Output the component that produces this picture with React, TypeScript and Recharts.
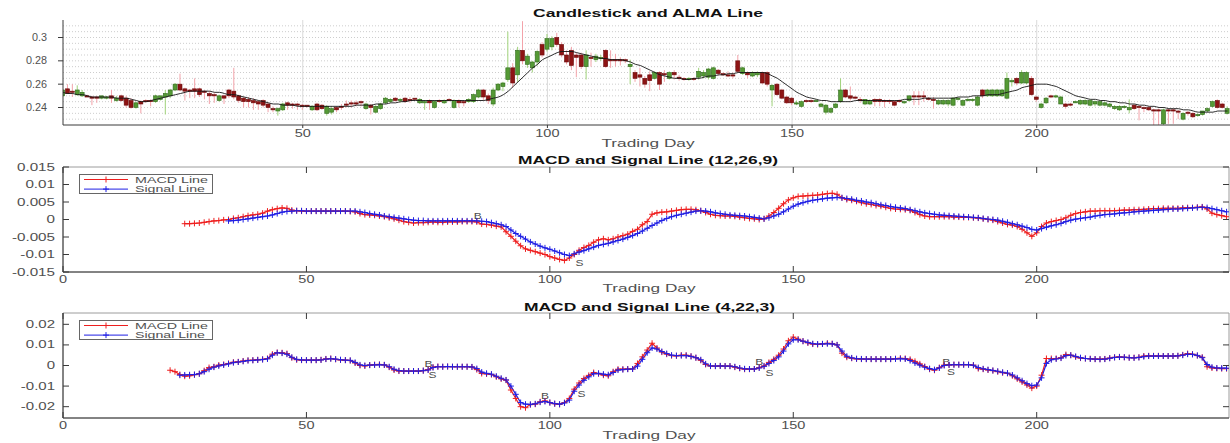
import React from 'react';
import {
  ComposedChart,
  Bar,
  Line,
  XAxis,
  YAxis,
  CartesianGrid,
  ReferenceArea,
  ReferenceDot,
  Legend,
} from 'recharts';

// prices are kept in thousandths (0.253 -> 253), MACD values in ten-thousandths (0.0012 -> 12)
const LAST_DAY = 239;

const open = [
  250, 256, 254, 251, 250, 250, 249, 249, 248, 248,
  250, 246, 250, 248, 246, 240, 245, 246, 246, 245,
  247, 249, 250, 255, 260, 256, 255, 256, 256, 254,
  252, 251, 246, 250, 255, 254, 250, 248, 247, 246,
  245, 246, 243, 239, 237, 238, 244, 243, 243, 242,
  242, 238, 243, 242, 235, 236, 240, 241, 243, 244,
  244, 245, 239, 242, 236, 239, 244, 245, 248, 246,
  248, 247, 248, 244, 244, 246, 240, 246, 244, 247,
  240, 246, 245, 245, 245, 249, 255, 250, 243, 255,
  258, 264, 274, 268, 289, 277, 274, 279, 294, 290,
  292, 300, 294, 285, 289, 285, 285, 275, 283, 281,
  282, 289, 281, 281, 281, 281, 275, 270, 268, 265,
  268, 265, 270, 269, 265, 270, 266, 265, 264, 265,
  266, 267, 266, 265, 272, 269, 268, 268, 280, 269,
  270, 267, 268, 270, 270, 255, 260, 255, 249, 248,
  243, 241, 246, 246, 245, 241, 236, 236, 240, 245,
  255, 250, 249, 247, 243, 243, 247, 247, 246, 246,
  245, 246, 244, 246, 250, 250, 250, 248, 247, 243,
  243, 243, 242, 247, 242, 246, 246, 242, 255, 250,
  250, 250, 250, 248, 262, 265, 261, 261, 265, 249,
  240, 244, 250, 249, 243, 243, 243, 244, 243, 243,
  242, 243, 242, 242, 241, 239, 238, 240, 238, 242,
  241, 240, 240, 238, 238, 226, 238, 238, 237, 230,
  236, 235, 233, 234, 237, 241, 246, 243, 235,
];

const high = [
  256, 260, 260, 259, 255, 251, 250, 250, 250, 250,
  255, 250, 251, 250, 248, 245, 246, 247, 247, 251,
  250, 255, 256, 261, 269, 257, 256, 265, 257, 255,
  254, 253, 251, 251, 256, 274, 251, 249, 249, 248,
  246, 247, 244, 241, 240, 244, 245, 244, 244, 243,
  242, 242, 244, 243, 242, 241, 241, 243, 246, 246,
  246, 246, 244, 243, 242, 244, 249, 248, 249, 248,
  249, 249, 248, 248, 246, 247, 246, 247, 247, 248,
  247, 247, 246, 248, 252, 256, 256, 252, 257, 261,
  262, 305, 278, 292, 314, 286, 280, 289, 296, 303,
  301, 304, 296, 289, 292, 287, 287, 289, 287, 286,
  285, 290, 289, 286, 283, 282, 281, 272, 274, 267,
  271, 271, 271, 272, 271, 272, 268, 266, 266, 266,
  274, 272, 274, 275, 273, 270, 271, 270, 285, 275,
  271, 271, 271, 271, 271, 260, 261, 256, 250, 249,
  246, 246, 247, 247, 247, 244, 243, 240, 244, 265,
  256, 258, 250, 249, 247, 247, 248, 248, 247, 247,
  246, 247, 246, 250, 254, 254, 254, 249, 249, 247,
  247, 247, 249, 249, 247, 248, 248, 250, 256, 256,
  256, 256, 256, 270, 265, 266, 272, 271, 267, 250,
  244, 249, 251, 251, 250, 244, 244, 246, 247, 247,
  247, 246, 246, 245, 244, 242, 242, 242, 247, 243,
  242, 241, 241, 239, 239, 239, 239, 239, 238, 236,
  237, 236, 235, 237, 240, 246, 247, 244, 241,
];

const low = [
  249, 252, 249, 250, 249, 249, 242, 244, 247, 247,
  244, 245, 245, 240, 239, 239, 235, 244, 241, 244,
  246, 234, 248, 254, 254, 246, 248, 248, 249, 247,
  243, 244, 245, 243, 248, 247, 244, 240, 240, 238,
  238, 240, 236, 236, 233, 237, 238, 239, 238, 238,
  240, 237, 237, 238, 233, 234, 236, 238, 240, 240,
  241, 241, 238, 234, 235, 238, 243, 244, 245, 244,
  244, 244, 246, 243, 238, 238, 239, 244, 243, 245,
  239, 240, 241, 244, 244, 248, 246, 243, 241, 254,
  254, 262, 257, 262, 277, 274, 270, 276, 283, 288,
  289, 292, 283, 277, 272, 266, 273, 264, 275, 279,
  280, 274, 274, 275, 276, 278, 260, 262, 258, 257,
  254, 264, 255, 262, 264, 264, 263, 263, 263, 263,
  264, 265, 264, 264, 267, 267, 266, 265, 270, 268,
  265, 266, 266, 260, 258, 241, 250, 247, 243, 242,
  242, 240, 244, 244, 245, 240, 234, 235, 239, 244,
  248, 246, 247, 244, 242, 242, 241, 241, 240, 243,
  241, 244, 243, 245, 242, 242, 245, 246, 239, 242,
  242, 241, 241, 246, 241, 245, 245, 241, 248, 249,
  249, 249, 249, 247, 258, 259, 260, 260, 250, 245,
  239, 243, 248, 248, 243, 239, 241, 244, 242, 242,
  241, 241, 241, 241, 240, 238, 237, 239, 235, 238,
  229, 236, 237, 225, 225, 225, 226, 226, 230, 229,
  233, 231, 232, 233, 236, 240, 239, 239, 234,
];

const close = [
  255, 252, 253, 255, 253, 249, 248, 248, 250, 249,
  248, 248, 246, 242, 240, 244, 243, 245, 245, 250,
  250, 252, 255, 260, 255, 254, 254, 254, 251, 253,
  250, 250, 250, 248, 250, 249, 246, 245, 245, 244,
  243, 242, 240, 238, 239, 243, 242, 242, 242, 241,
  241, 241, 238, 239, 241, 239, 238, 240, 242, 243,
  243, 244, 243, 240, 241, 243, 248, 247, 246, 247,
  245, 246, 247, 247, 245, 244, 245, 245, 246, 246,
  246, 244, 244, 247, 251, 255, 249, 246, 255, 260,
  261, 274, 261, 289, 280, 284, 279, 288, 285, 299,
  299, 294, 285, 279, 276, 283, 275, 285, 282, 284,
  283, 275, 280, 280, 280, 280, 277, 265, 266, 260,
  263, 270, 260, 268, 270, 268, 265, 264, 265, 264,
  271, 270, 273, 274, 269, 268, 267, 267, 271, 274,
  268, 270, 270, 261, 260, 259, 251, 248, 244, 244,
  244, 245, 245, 245, 246, 243, 242, 239, 243, 255,
  249, 248, 248, 246, 247, 246, 245, 245, 245, 245,
  242, 245, 245, 250, 249, 249, 249, 247, 246, 246,
  246, 246, 248, 248, 246, 247, 247, 249, 250, 255,
  255, 255, 255, 265, 263, 261, 270, 270, 251, 247,
  243, 248, 249, 250, 249, 241, 242, 245, 246, 246,
  246, 245, 245, 244, 243, 241, 241, 241, 240, 239,
  240, 239, 238, 237, 237, 238, 237, 237, 236, 235,
  235, 232, 234, 237, 239, 245, 240, 240, 239,
];

const alma = [
  253, 252, 252, 251, 251, 250, 249, 249, 249, 249,
  249, 248, 248, 248, 247, 246, 245, 245, 246, 247,
  248, 249, 250, 251, 252, 253, 254, 254, 254, 254,
  254, 253, 253, 252, 251, 251, 250, 249, 248, 247,
  246, 245, 244, 243, 243, 242, 242, 242, 241, 241,
  241, 241, 241, 241, 241, 241, 241, 241, 241, 241,
  242, 242, 242, 242, 243, 243, 243, 244, 244, 245,
  245, 246, 246, 246, 246, 246, 246, 246, 246, 246,
  246, 246, 246, 246, 246, 246, 246, 247, 248, 249,
  251, 254, 258, 262, 266, 270, 274, 277, 281, 283,
  285, 287, 288, 288, 288, 287, 286, 285, 284, 283,
  282, 282, 281, 281, 281, 280, 279, 277, 276, 274,
  272, 270, 268, 267, 266, 265, 265, 264, 264, 265,
  265, 266, 267, 267, 268, 268, 269, 269, 270, 270,
  270, 270, 270, 270, 269, 267, 265, 262, 259, 256,
  253, 251, 249, 248, 247, 246, 246, 245, 245, 245,
  245, 245, 246, 246, 246, 246, 246, 246, 246, 246,
  246, 246, 247, 247, 247, 247, 248, 248, 248, 248,
  248, 248, 248, 249, 249, 249, 250, 250, 250, 251,
  251, 251, 252, 253, 254, 255, 257, 258, 259, 260,
  260, 260, 259, 258, 256, 254, 252, 250, 249, 248,
  247, 247, 246, 246, 245, 245, 244, 244, 243, 243,
  242, 242, 241, 241, 240, 240, 239, 239, 239, 238,
  238, 237, 236, 236, 236, 236, 237, 237, 237,
];

// MACD (12,26,9)
const macd12Start = 25;
const macd12 = [
  -12, -12, -11, -10, -8, -6, -4, -3, -1, 0,
  3, 5, 8, 11, 13, 15, 18, 24, 28, 31,
  33, 32, 27, 25, 24, 24, 24, 24, 24, 24,
  24, 24, 24, 24, 23, 22, 17, 14, 13, 12,
  10, 8, 5, 2, -2, -6, -8, -10, -9, -9,
  -8, -7, -8, -8, -7, -7, -7, -6, -6, -6,
  -7, -13, -14, -16, -19, -21, -35, -48, -62, -75,
  -84, -88, -92, -96, -100, -106, -110, -114, -117, -110,
  -100, -88, -80, -74, -65, -58, -55, -58, -55, -50,
  -46, -42, -34, -28, -15, -6, 15, 19, 21, 22,
  24, 26, 28, 29, 29, 28, 25, 20, 15, 12,
  11, 10, 10, 9, 7, 5, 3, 2, 0, 2,
  10, 20, 32, 45, 56, 62, 66, 67, 68, 69,
  70, 72, 74, 75, 72, 62, 57, 55, 52, 48,
  45, 43, 40, 38, 35, 32, 30, 29, 28, 26,
  20, 14, 10, 8, 8, 8, 8, 8, 7, 7,
  6, 6, 5, 4, 2, 0, -2, -6, -10, -14,
  -16, -20, -28, -38, -48, -38, -20, -10, -6, -3,
  0, 5, 12, 17, 20, 22, 24, 24, 25, 25,
  25, 25, 26, 27, 27, 28, 28, 29, 30, 31,
  31, 32, 32, 32, 32, 33, 34, 34, 35, 36,
  30, 18, 14, 11, 8,
];
const signal12Start = 34;
const signal12 = [
  -4, -3, -2, 0, 2, 4, 6, 8, 10, 13,
  17, 21, 23, 24, 25, 25, 24, 24, 24, 24,
  24, 24, 24, 24, 24, 24, 24, 22, 20, 17,
  15, 13, 10, 8, 6, 4, 2, 0, -2, -3,
  -3, -4, -4, -4, -4, -4, -4, -4, -4, -4,
  -4, -4, -5, -6, -9, -12, -15, -20, -30, -40,
  -48, -56, -64, -70, -76, -81, -85, -90, -95, -100,
  -103, -98, -93, -89, -84, -79, -74, -71, -68, -64,
  -60, -56, -51, -46, -40, -33, -25, -17, -10, -3,
  3, 8, 12, 15, 18, 21, 24, 25, 24, 22,
  19, 17, 15, 13, 12, 11, 10, 8, 6, 4,
  2, 5, 10, 15, 22, 30, 38, 44, 48, 52,
  55, 57, 59, 61, 62, 63, 62, 60, 58, 55,
  53, 50, 48, 45, 42, 40, 37, 35, 33, 31,
  28, 25, 22, 19, 17, 15, 13, 12, 11, 10,
  9, 8, 7, 6, 5, 3, 1, 0, -2, -5,
  -8, -12, -15, -19, -23, -28, -30, -26, -22, -18,
  -15, -11, -6, -2, 1, 3, 5, 7, 10, 12,
  14, 15, 16, 18, 19, 20, 22, 23, 24, 25,
  26, 27, 28, 29, 30, 30, 31, 32, 33, 34,
  35, 34, 31, 28, 25, 22,
];

// MACD (4,22,3)
const macd4Start = 22;
const macd4 = [
  -23, -30, -44, -52, -50, -45, -40, -25, -10, -6,
  2, 5, 10, 16, 18, 22, 25, 26, 28, 30,
  34, 55, 63, 62, 58, 38, 28, 26, 26, 26,
  26, 28, 32, 34, 30, 27, 26, 24, 12, 0,
  -2, 2, 4, 5, 3, -8, -22, -27, -27, -27,
  -27, -27, -25, -20, -8, -5, -6, -5, -6, -6,
  -6, -6, -7, -20, -39, -41, -44, -55, -65, -71,
  -119, -160, -200, -205, -190, -188, -176, -172, -180, -186,
  -189, -180, -160, -115, -85, -63, -48, -34, -40, -47,
  -50, -30, -18, -18, -17, -17, 10, 42, 75, 108,
  85, 65, 55, 48, 47, 50, 50, 45, 38, 25,
  5, -3, -3, -2, -3, -3, -8, -14, -18, -18,
  -17, -10, -2, 15, 30, 50, 80, 120, 138, 128,
  118, 110, 104, 102, 105, 108, 106, 100, 60, 40,
  35, 32, 31, 31, 31, 31, 31, 31, 31, 33,
  35, 34, 30, 20, 8, -5, -18, -23, -10, 2,
  3, 4, 4, 4, 4, 2, -15, -18, -22, -25,
  -30, -35, -38, -50, -65, -80, -95, -110, -100, -47,
  34, 34, 34, 38, 53, 50, 42, 36, 34, 33,
  31, 31, 32, 36, 40, 42, 40, 38, 38, 40,
  46, 47, 47, 47, 46, 46, 46, 47, 52, 58,
  55, 48, 40, -6, -12, -14, -15, -15,
];
const signal4Start = 24;
const signal4 = [
  -47, -46, -45, -44, -40, -30, -18, -8, -2, 3,
  8, 14, 17, 20, 24, 25, 27, 29, 32, 50,
  62, 60, 55, 40, 30, 27, 26, 26, 26, 27,
  31, 33, 31, 28, 26, 25, 15, 3, 0, 2,
  3, 4, 3, -6, -18, -25, -27, -27, -27, -27,
  -25, -22, -10, -6, -6, -5, -6, -6, -6, -6,
  -7, -15, -32, -38, -42, -52, -62, -70, -100, -140,
  -180, -188, -189, -186, -178, -175, -180, -185, -188, -182,
  -168, -125, -95, -72, -55, -40, -38, -42, -45, -34,
  -22, -20, -18, -17, -3, 30, 62, 85, 80, 68,
  58, 50, 48, 48, 48, 44, 38, 28, 8, -2,
  -3, -2, -3, -3, -6, -12, -16, -17, -17, -12,
  -4, 10, 24, 42, 70, 105, 125, 125, 118, 112,
  106, 104, 105, 106, 105, 100, 70, 45, 37, 33,
  32, 31, 31, 31, 31, 31, 31, 32, 33, 32,
  24, 12, 2, -8, -15, -20, -12, 0, 3, 4,
  4, 4, 4, 1, -10, -16, -20, -24, -28, -33,
  -37, -46, -60, -74, -88, -98, -95, -60, 10, 28,
  32, 36, 48, 50, 44, 38, 34, 32, 31, 30,
  31, 35, 39, 41, 40, 38, 37, 39, 43, 46,
  46, 46, 46, 46, 46, 47, 50, 55, 54, 49,
  38, 5, -8, -12, -13, -13,
];

// buy / sell markers
const marks12 = [
  { day: 85.2, value: 12, text: 'B' },
  { day: 106.1, value: -123, text: 'S' },
];
const marks4 = [
  { day: 75.1, value: 6, text: 'B' },
  { day: 75.9, value: -47, text: 'S' },
  { day: 99.0, value: -148, text: 'B' },
  { day: 106.5, value: -139, text: 'S' },
  { day: 143.0, value: 16, text: 'B' },
  { day: 145.1, value: -37, text: 'S' },
  { day: 181.4, value: 16, text: 'B' },
  { day: 182.4, value: -32, text: 'S' },
];

const priceTicks = [240, 260, 280, 300];
const priceMinorGrid = [230, 235, 240, 245, 250, 255, 260, 265, 270, 275, 280, 285, 290, 295, 300, 305, 310];
const topDayTicks = [50, 100, 150, 200];
const dayTicks = [0, 50, 100, 150, 200];
const macd12Ticks = [-150, -100, -50, 0, 50, 100, 150];
const macd4Ticks = [-200, -100, 0, 100, 200];

const FONT = '"Liberation Sans", Arial, Helvetica, sans-serif';
const LABEL = '#505050';
const AXIS = '#3a3a3a';
const FRAME = '#9c9c9c';
const RED = '#ee1f1f';
const BLUE = '#1f1fe4';

const PLOT_LEFT = 63;
const PLOT_W = 1166;
const PLOT_H = 105;

const CHAR_W: Record<string, number> = { '.': 0.278, '-': 0.333 };
const textW = (s: string, size: number, stretch: number) =>
  [...s].reduce((w, ch) => w + (CHAR_W[ch] ?? 0.556), 0) * size * stretch;

const KEY_TEXT_W: Record<string, number> = { 'MACD Line': 73, 'Signal Line': 70 };

function StretchText({ x, y, text, size = 10, width, anchor = 'middle', weight = 400, fill = LABEL }: any) {
  return (
    <text
      x={x}
      y={y}
      fontSize={size}
      fontFamily={FONT}
      fontWeight={weight}
      fill={fill}
      textAnchor={anchor}
      textLength={width}
      lengthAdjust="spacingAndGlyphs"
    >
      {text}
    </text>
  );
}

const priceRows = open.map((o, i) => ({
  day: i + 1,
  open: o,
  close: close[i],
  range: [low[i], high[i]],
  alma: alma[i],
}));

function macdRows(fast: number[], fastStart: number, slow: number[], slowStart: number) {
  const rows = [];
  for (let d = Math.min(fastStart, slowStart); d <= LAST_DAY; d++) {
    rows.push({
      day: d,
      macd: d >= fastStart ? fast[d - fastStart] : null,
      signal: d >= slowStart ? slow[d - slowStart] : null,
    });
  }
  return rows;
}

const rows12 = macdRows(macd12, macd12Start, signal12, signal12Start);
const rows4 = macdRows(macd4, macd4Start, signal4, signal4Start);

// axis ticks: MATLAB style, drawn by hand so they can point into the box
const yTick = (fmt: (v: number) => string, inward: boolean, gap: number, stretch: number) => (props: any) => {
  const { x, y, payload } = props;
  const label = fmt(payload.value);
  return (
    <g>
      {inward ? (
        <>
          <line x1={x} x2={x + 6} y1={y} y2={y} stroke={AXIS} />
          <line x1={x + PLOT_W - 6} x2={x + PLOT_W} y1={y} y2={y} stroke={AXIS} />
        </>
      ) : (
        <line x1={x - 5} x2={x} y1={y} y2={y} stroke={AXIS} />
      )}
      <StretchText x={x - gap} y={y + 3.5} text={label} anchor="end" width={textW(label, 10, stretch)} />
    </g>
  );
};

const xTick = (inward: boolean, dy: number) => (props: any) => {
  const { x, y, payload } = props;
  const label = String(payload.value);
  return (
    <g>
      {inward ? (
        <>
          <line x1={x} x2={x} y1={y - 6} y2={y} stroke={AXIS} />
          <line x1={x} x2={x} y1={y - PLOT_H} y2={y - PLOT_H + 6} stroke={AXIS} />
        </>
      ) : (
        <line x1={x} x2={x} y1={y} y2={y + 3} stroke={AXIS} />
      )}
      <StretchText x={x} y={y + dy} text={label} width={textW(label, 10, 1.45)} />
    </g>
  );
};

function Candle(props: any) {
  const { x, y, width, height, payload } = props;
  if (x == null || !payload) return null;
  const [lo, hi] = payload.range;
  const py = (v: number) => y + ((hi - v) / (hi - lo)) * height;
  const up = payload.close >= payload.open;
  const cx = x + width / 2;
  const top = py(Math.max(payload.open, payload.close));
  const bot = py(Math.min(payload.open, payload.close));
  return (
    <g>
      <line x1={cx} x2={cx} y1={y} y2={y + height} stroke={up ? '#9fd27a' : '#f3a3aa'} strokeWidth={1} />
      <rect
        x={x}
        y={top}
        width={width}
        height={Math.max(bot - top, 1.2)}
        fill={up ? '#559a35' : '#8e1414'}
        stroke={up ? '#2f6a1b' : '#6a0a0a'}
        strokeWidth={0.6}
      />
    </g>
  );
}

function plusDot(color: string) {
  return (props: any) => {
    const { cx, cy, index } = props;
    if (cx == null || cy == null) return <g key={`e${index}`} />;
    return (
      <path
        key={`p${index}`}
        d={`M${cx - 3},${cy}H${cx + 3}M${cx},${cy - 3}V${cy + 3}`}
        stroke={color}
        strokeWidth={1}
        fill="none"
      />
    );
  };
}

function SeriesKey({ payload }: any) {
  const items = payload ?? [];
  return (
    <svg width={134} height={20} style={{ display: 'block' }}>
      <rect x={0.5} y={0.5} width={133} height={19} fill="#fff" stroke="#666" />
      {items.map((p: any, i: number) => {
        const y = 5.5 + i * 9.6;
        return (
          <g key={p.value}>
            <line x1={5} x2={49} y1={y} y2={y} stroke={p.color} />
            <path d={`M24,${y}H30M27,${y - 3}V${y + 3}`} stroke={p.color} />
            <StretchText x={56} y={y + 3.3} text={p.value} size={9.5} anchor="start" width={KEY_TEXT_W[p.value]} />
          </g>
        );
      })}
    </svg>
  );
}

function PriceChart() {
  return (
    <ComposedChart width={1230} height={150} data={priceRows} margin={{ top: 20, right: 0, bottom: 0, left: 0 }}>
      <CartesianGrid vertical={false} horizontalValues={priceMinorGrid} stroke="#cdcdcd" strokeDasharray="1 2" />
      <CartesianGrid horizontal={false} verticalValues={topDayTicks} stroke="#dadada" />
      <XAxis
        dataKey="day"
        type="number"
        domain={[1, 239.5]}
        allowDataOverflow
        ticks={topDayTicks}
        interval={0}
        height={25}
        tickSize={0}
        tickMargin={0}
        axisLine={{ stroke: AXIS }}
        tick={xTick(false, 12)}
      />
      <YAxis
        type="number"
        domain={[225, 315]}
        allowDataOverflow
        ticks={priceTicks}
        interval={0}
        width={PLOT_LEFT}
        tickSize={0}
        tickMargin={0}
        axisLine={{ stroke: AXIS }}
        tick={yTick((v) => String(v / 1000), false, 16, 1.08)}
      />
      <Bar dataKey="range" barSize={4} shape={(p: any) => <Candle {...p} />} isAnimationActive={false} />
      <Line dataKey="alma" type="monotone" stroke="#161616" strokeWidth={0.9} dot={false} isAnimationActive={false} />
    </ComposedChart>
  );
}

function MacdChart({ rows, domain, ticks, marks, height, top, axisHeight, labelDy, yStretch }: any) {
  return (
    <ComposedChart width={1230} height={height} data={rows} margin={{ top, right: 1, bottom: 0, left: 0 }}>
      <XAxis
        dataKey="day"
        type="number"
        domain={[0, 239.5]}
        allowDataOverflow
        ticks={dayTicks}
        interval={0}
        height={axisHeight}
        tickSize={0}
        tickMargin={0}
        axisLine={{ stroke: AXIS }}
        tick={xTick(true, labelDy)}
      />
      <YAxis
        type="number"
        domain={domain}
        allowDataOverflow
        ticks={ticks}
        interval={0}
        width={PLOT_LEFT}
        tickSize={0}
        tickMargin={0}
        axisLine={{ stroke: AXIS }}
        tick={yTick((v) => String(v / 10000), true, 8, yStretch)}
      />
      <ReferenceArea x1={0} x2={239.5} y1={domain[0]} y2={domain[1]} fill="none" stroke={FRAME} strokeWidth={1} />
      <Legend
        layout="horizontal"
        align="center"
        verticalAlign="middle"
        wrapperStyle={{ left: 79, top: top + 7, width: 134, height: 20 }}
        content={(p: any) => <SeriesKey payload={p.payload} />}
      />
      <Line
        dataKey="macd"
        name="MACD Line"
        type="linear"
        stroke={RED}
        strokeWidth={1.2}
        dot={plusDot(RED)}
        activeDot={false}
        isAnimationActive={false}
      />
      <Line
        dataKey="signal"
        name="Signal Line"
        type="linear"
        stroke={BLUE}
        strokeWidth={1.2}
        dot={plusDot(BLUE)}
        activeDot={false}
        isAnimationActive={false}
      />
      {marks.map((m: any) => (
        <ReferenceDot
          key={`${m.text}${m.day}`}
          x={m.day}
          y={m.value}
          r={0}
          shape={(p: any) => (
            <StretchText x={p.cx} y={p.cy + 3.2} text={m.text} size={9} width={8} fill="#4b4b4b" />
          )}
        />
      ))}
    </ComposedChart>
  );
}

const titles = [
  { text: 'Candlestick and ALMA Line', x: 648, y: 17, width: 230 },
  { text: 'MACD and Signal Line (12,26,9)', x: 648, y: 164, width: 260 },
  { text: 'MACD and Signal Line (4,22,3)', x: 649.5, y: 310.5, width: 251 },
];
const xLabels = [
  { x: 648, y: 146.5 },
  { x: 649, y: 292 },
  { x: 649, y: 439 },
];

export default function App() {
  return (
    <div style={{ position: 'relative', width: 1230, height: 443, background: '#fff', overflow: 'hidden', fontFamily: FONT }}>
      <style>{'body{margin:0;background:#fff}'}</style>
      <div style={{ position: 'absolute', left: 0, top: 0 }}>
        <PriceChart />
      </div>
      <div style={{ position: 'absolute', left: 0, top: 150 }}>
        <MacdChart
          rows={rows12}
          domain={[-150, 150]}
          ticks={macd12Ticks}
          marks={marks12}
          height={150}
          top={17}
          axisHeight={28}
          labelDy={11}
          yStretch={1.52}
        />
      </div>
      <div style={{ position: 'absolute', left: 0, top: 295 }}>
        <MacdChart
          rows={rows4}
          domain={[-255, 255]}
          ticks={macd4Ticks}
          marks={marks4}
          height={148}
          top={18}
          axisHeight={25}
          labelDy={10.5}
          yStretch={1.5}
        />
      </div>
      <svg width={1230} height={443} style={{ position: 'absolute', left: 0, top: 0, pointerEvents: 'none' }}>
        {titles.map((t) => (
          <StretchText key={t.text} x={t.x} y={t.y} text={t.text} size={10.5} weight={700} width={t.width} fill="#111" />
        ))}
        {xLabels.map((l, i) => (
          <StretchText key={i} x={l.x} y={l.y} text="Trading Day" size={11} width={93} fill={LABEL} />
        ))}
      </svg>
    </div>
  );
}
